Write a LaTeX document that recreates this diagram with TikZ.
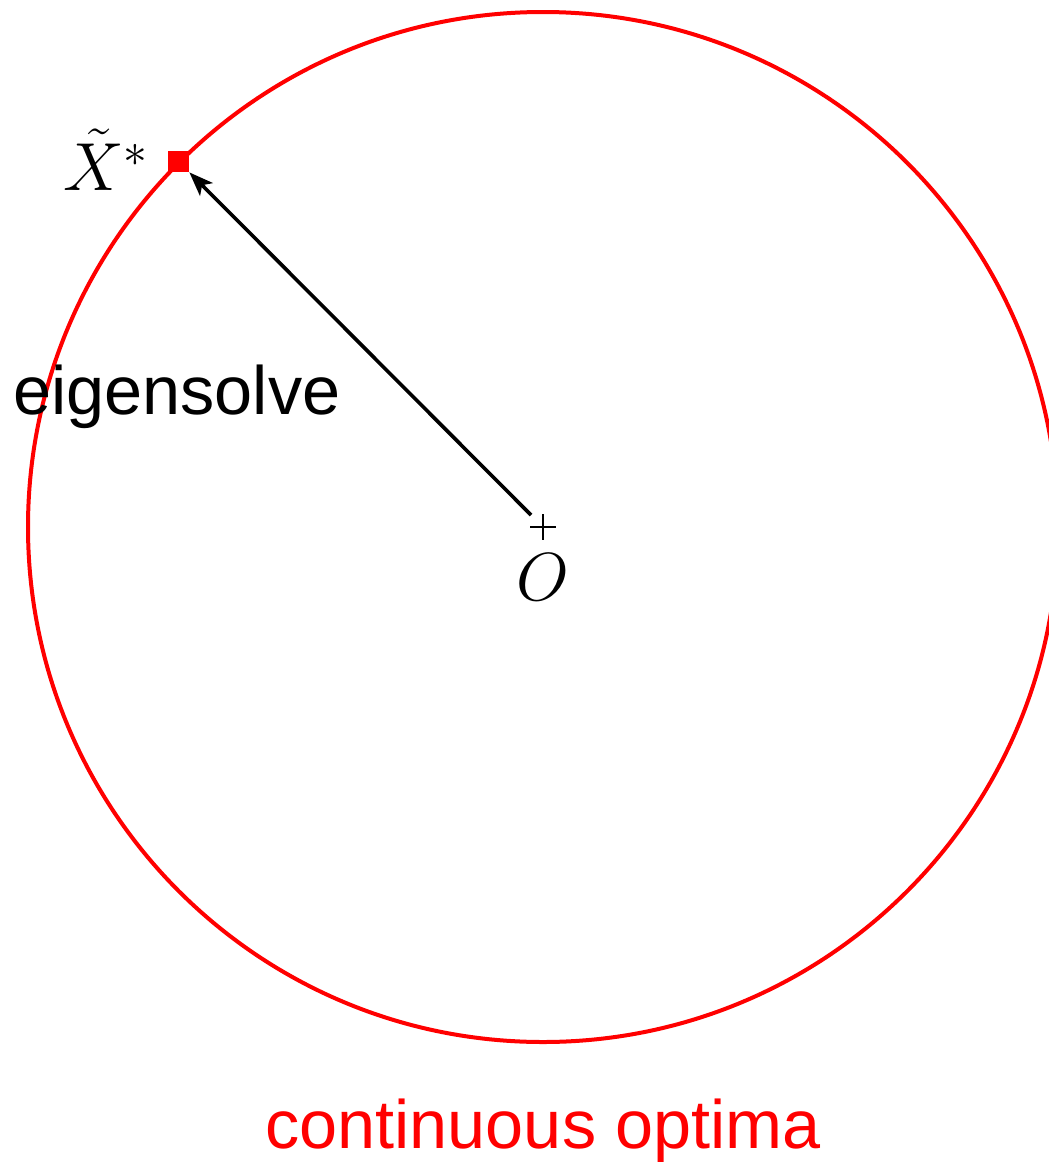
\RequirePackage{fix-cm}
\documentclass[tikz,border=0pt]{standalone}
\usepackage{fontspec}
\setsansfont{Liberation Sans}
\usetikzlibrary{arrows.meta}
\begin{document}
\begin{tikzpicture}[x=0.5pt,y=-0.5pt,
  optimum/.style={draw=red,line width=2pt},
  sqmark/.style={fill=red,minimum size=10.5pt,inner sep=0pt},
  pathline/.style={line width=1.8pt,-{Stealth[length=12pt,width=9pt,inset=3pt]}},
  mathlbl/.style={font=\fontsize{34}{40}\selectfont},
  sanslbl/.style={font=\sffamily\fontsize{34.2}{40}\selectfont}]
\path[use as bounding box] (0,0) rectangle (1049,1162);
\clip (0,0) rectangle (1049,1162);
\coordinate (O) at (543,527);
\draw[optimum] (O) circle[radius=257.5pt];
\node[sqmark] (X) at (178.5,161.5) {};
\node[mathlbl,anchor=east,inner sep=0pt] (Xl) at (149,160) {$\tilde{X}^*$};
\draw[line width=1pt] (530,527) -- (556,527) (543,514) -- (543,540);
\node[mathlbl,anchor=base,inner sep=0pt] (Ol) at (543,600) {$O$};
\coordinate (start) at (531,515);
\draw[pathline] (start) -- (X.south east);
\node[sanslbl,anchor=base west,inner sep=0pt] (eig) at (13,414) {eigensolve};
\node[sanslbl,anchor=base,inner sep=0pt,text=red] (cont) at (543,1148) {continuous optima};
\end{tikzpicture}
\end{document}
